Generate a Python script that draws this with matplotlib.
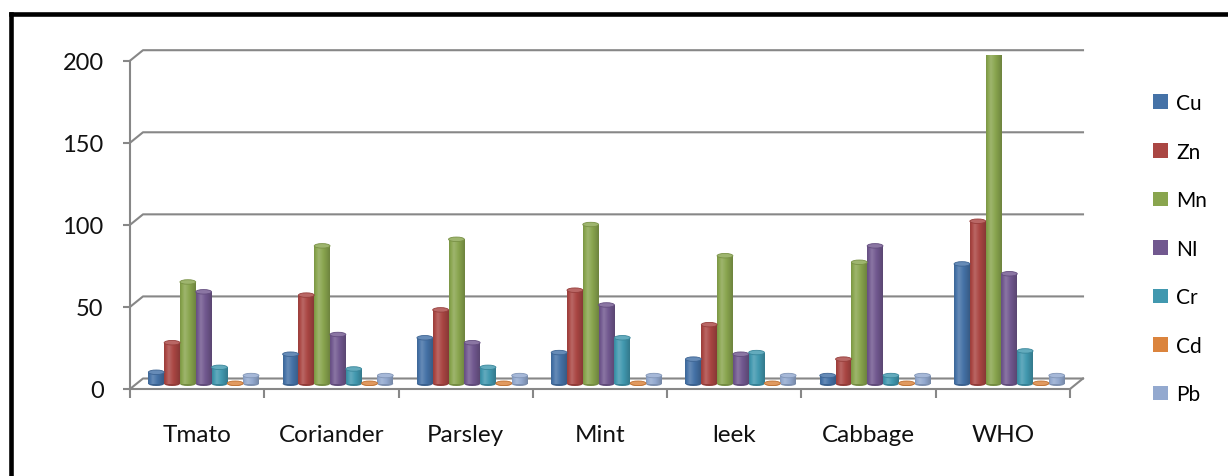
import numpy as np
import matplotlib
matplotlib.use('Agg')
import matplotlib.pyplot as plt
from matplotlib.patches import Ellipse
from matplotlib.lines import Line2D
from matplotlib.colors import to_rgb

plt.rcParams['font.family'] = ['Lato', 'DejaVu Sans']

# values
categories = ['Tmato', 'Coriander', 'Parsley', 'Mint', 'leek', 'Cabbage', 'WHO']
elements = ['Cu', 'Zn', 'Mn', 'NI', 'Cr', 'Cd', 'Pb']
cu = [7, 18, 28, 19, 15, 5, 73]
zn = [25, 54, 45, 57, 36, 15, 99]
mn = [62, 84, 88, 97, 78, 74, 200]
ni = [56, 30, 25, 48, 18, 84, 67]
cr = [10, 9, 10, 28, 19, 5, 20]
cd = [0.3, 0.3, 0.3, 0.3, 0.3, 0.3, 0.3]
pb = [5, 5, 5, 5, 5, 5, 5]
series = [cu, zn, mn, ni, cr, cd, pb]
colors = ['#4572A7', '#AA4643', '#89A54E', '#71588F', '#4198AF', '#DB843D', '#93A9CF']
y_ticks = [0, 50, 100, 150, 200]

GRID = '#878787'
PX_X = 134.3      # pixels per category
PX_Y = 1.6415     # pixels per value unit
DX = 13 / PX_X    # depth of the 3d box, in data units
DY = 10.5 / PX_Y
STEP = 15.8 / PX_X
W = STEP          # bars touch each other
EH = 4.5 / PX_Y   # height of the cylinder caps


def shade(c, f):
    c = np.array(to_rgb(c))
    if f >= 1:
        return np.clip(c + (1 - c) * (f - 1), 0, 1)
    return c * f


def gradient(c):
    t = np.linspace(0, 1, 40)
    f = np.interp(t, [0, 0.3, 0.6, 1], [0.9, 1.18, 1.0, 0.8])
    return np.array([shade(c, k) for k in f])[None, :, :]


fig = plt.figure(figsize=(12.28, 4.77), dpi=100)
ax = fig.add_axes([130 / 1228, 87 / 477, 940 / 1228, 328.3 / 477])

# back wall gridlines with the diagonal depth connectors
for v in y_ticks:
    ax.plot([-0.5, -0.5 + DX, 6.5 + DX], [v, v + DY, v + DY],
            color=GRID, lw=1.5, clip_on=False, zorder=1)
ax.plot([6.5, 6.5 + DX], [0, DY], color=GRID, lw=1.5, clip_on=False, zorder=1)

x = np.arange(len(categories))
handles = []
for j, (vals, c) in enumerate(zip(series, colors)):
    xs = x + (j - 3) * STEP + DX / 2
    bars = ax.bar(xs, vals, W, bottom=DY / 2, color=c, zorder=2.9, label=elements[j])
    handles.append(bars)
    grad = gradient(c)
    for rect, xc, v in zip(bars, xs, vals):
        ax.add_patch(Ellipse((xc, DY / 2), W, EH, facecolor=shade(c, 0.85),
                             edgecolor='none', zorder=2.8))
        img = ax.imshow(grad, extent=(rect.get_x(), rect.get_x() + W, DY / 2, DY / 2 + v),
                        aspect='auto', origin='lower', interpolation='bilinear', zorder=3)
        img.set_clip_path(rect)
        ax.add_patch(Ellipse((xc, DY / 2 + v), W, EH, facecolor=shade(c, 1.18),
                             edgecolor=shade(c, 0.88), lw=0.6, zorder=4))

ax.set_xlim(-0.5, 6.5)
ax.set_ylim(0, 200)

for s in ['top', 'right']:
    ax.spines[s].set_visible(False)
for s in ['left', 'bottom']:
    ax.spines[s].set_color(GRID)
    ax.spines[s].set_linewidth(1.5)

ax.set_yticks(y_ticks)
ax.tick_params(axis='y', colors=GRID, labelcolor='#111111', length=5, width=1.5,
               pad=14, labelsize=17)
ax.set_xticks(x)
ax.set_xticklabels(categories)
ax.set_xticks(np.arange(-0.5, 7, 1), minor=True)
ax.tick_params(axis='x', which='major', length=0, pad=25, labelsize=17.5, labelcolor='#111111')
ax.tick_params(axis='x', which='minor', length=6.5, width=1.5, color=GRID)

ax.legend(handles, elements, loc='upper left', bbox_to_anchor=(1153 / 1228, 1 - 94 / 477),
          bbox_transform=fig.transFigure, frameon=False, fontsize=15,
          handlelength=0.7, handleheight=0.7, handletextpad=0.4,
          labelspacing=1.37, borderpad=0, borderaxespad=0)

# thick black frame around the chart (only top and left are in view)
fig.add_artist(Line2D([10.5 / 1228, 10.5 / 1228], [-0.05, 1 - 15 / 477],
                      transform=fig.transFigure, color='black', lw=3.3,
                      solid_capstyle='projecting'))
fig.add_artist(Line2D([10.5 / 1228, 1.05], [1 - 15 / 477, 1 - 15 / 477],
                      transform=fig.transFigure, color='black', lw=3.3,
                      solid_capstyle='projecting'))

fig.savefig('out.png', dpi=100)
